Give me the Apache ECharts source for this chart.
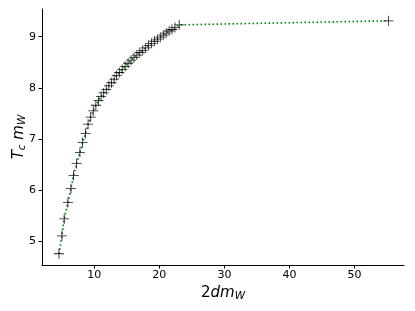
<!DOCTYPE html>
<html><head><meta charset="utf-8">
<script src="https://cdn.jsdelivr.net/npm/echarts@6/dist/echarts.min.js"></script>
<style>html,body{margin:0;padding:0;background:#fff}#c{width:415px;height:311px}</style>
</head><body><div id="c"></div>
<script>
const xValues = [4.57,5.03,5.38,5.95,6.42,6.83,7.29,7.8,8.2,8.67,9.05,9.45,9.85,10.25,10.65,11.05,11.45,11.85,12.25,12.65,13.05,13.45,13.85,14.3,14.75,15.2,15.65,16.1,16.55,17.0,17.45,17.9,18.35,18.8,19.25,19.7,20.15,20.6,21.05,21.5,21.95,22.4,23.05,55.2];
const yValues = [4.76,5.11,5.44,5.76,6.03,6.29,6.52,6.74,6.93,7.11,7.29,7.43,7.55,7.66,7.75,7.83,7.9,7.97,8.04,8.1,8.17,8.24,8.3,8.36,8.42,8.48,8.54,8.59,8.64,8.69,8.73,8.78,8.83,8.87,8.91,8.95,8.99,9.03,9.07,9.11,9.14,9.18,9.23,9.31];
const xTicks = [10,20,30,40,50];
const yTicks = [5,6,7,8,9];

const pts = xValues.map((x,i)=>[x,yValues[i]]);
const chart = echarts.init(document.getElementById('c'), null, {renderer:'canvas'});
const axisCol = '#000';
chart.setOption({
  animation:false,
  grid:{left:42,right:11,top:9,bottom:46,containLabel:false,outerBoundsMode:'none'},
  xAxis:{type:'value',min:1.97,max:57.6,
    axisLine:{lineStyle:{color:axisCol,width:1}},
    axisTick:{show:true,length:3.5,lineStyle:{color:axisCol},customValues:xTicks},
    axisLabel:{color:'#000',fontSize:11,fontFamily:'DejaVu Sans',margin:5,customValues:xTicks},
    splitLine:{show:false},
    name:'{a|2}{b|dm}{s|W}',nameLocation:'middle',nameGap:19,nameMoveOverlap:false,
    nameTextStyle:{rich:{
      a:{fontSize:15,fontFamily:'DejaVu Sans',color:'#000'},
      b:{fontSize:15,fontFamily:'DejaVu Sans',fontStyle:'italic',color:'#000'},
      s:{fontSize:10.5,fontFamily:'DejaVu Sans',fontStyle:'italic',color:'#000',padding:[7,0,0,0]}}}
  },
  yAxis:{type:'value',min:4.54,max:9.54,
    axisLine:{show:true,lineStyle:{color:axisCol,width:1}},
    axisTick:{show:true,length:3.5,lineStyle:{color:axisCol},customValues:yTicks},
    axisLabel:{color:'#000',fontSize:11,fontFamily:'DejaVu Sans',margin:6,customValues:yTicks},
    splitLine:{show:false},
    name:'{b|T}{s|c}{b| m}{s|W}',nameLocation:'middle',nameGap:14,nameRotate:90,nameMoveOverlap:false,
    nameTextStyle:{rich:{
      b:{fontSize:15,fontFamily:'DejaVu Sans',fontStyle:'italic',color:'#000'},
      s:{fontSize:10.5,fontFamily:'DejaVu Sans',fontStyle:'italic',color:'#000',padding:[7,0,0,0]}}}
  },
  series:[
    {type:'line',data:pts,showSymbol:false,symbol:'none',
     lineStyle:{color:'#008000',width:1.6,type:[1.6,2.4]},z:1},
    {type:'scatter',data:pts,symbol:'path://M9.2,0H10.8V9.2H20V10.8H10.8V20H9.2V10.8H0V9.2H9.2Z',
     symbolSize:10,itemStyle:{color:'#000',opacity:0.9},z:2}
  ]
});
</script></body></html>
